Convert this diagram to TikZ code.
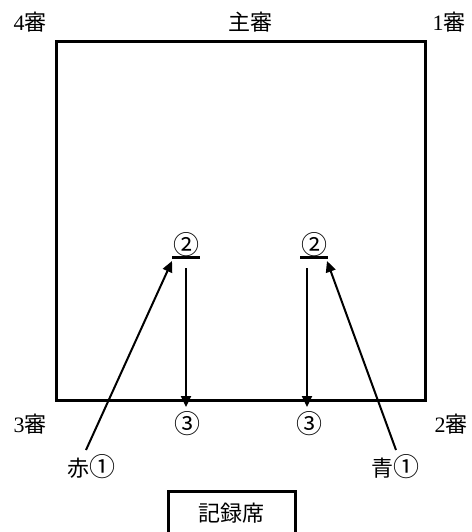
\documentclass[tikz,border=0pt]{standalone}
\usepackage{fontspec}
\setmainfont{Liberation Serif}
\newfontfamily\jp{Noto Sans CJK JP}
\newcommand{\cd}[1]{{\fontsize{26}{28}\selectfont\jp #1}}
\usetikzlibrary{arrows.meta}
\tikzset{
  lbl/.style={inner sep=0pt, font=\fontsize{22}{24}\selectfont},
  field/.style={line width=3pt},
  mv/.style={line width=2pt, -{Triangle[length=11pt,width=10pt]}},
  num/.style={lbl, minimum width=27pt, minimum height=24pt},
}
\begin{document}
\begin{tikzpicture}[x=1pt,y=-1pt]
\useasboundingbox (0,0) rectangle (471,532);
\clip (0,0) rectangle (471,532);
% court
\node[field, draw, minimum width=369pt, minimum height=358pt, inner sep=0pt] (court) at (240.5,221) {};
% labels
\node[lbl] (j4) at (30,22) {4{\jp 審}};
\node[lbl] (jm) at (250,22) {{\jp 主審}};
\node[lbl] (j1) at (449,22) {1{\jp 審}};
\node[lbl] (j3) at (30,424) {3{\jp 審}};
\node[lbl] (j2) at (451,424) {2{\jp 審}};
\node[lbl] (c3l) at (187,424) {\cd{③}};
\node[lbl] (c3r) at (309,424) {\cd{③}};
\node[lbl] (red) at (91,467) {{\jp 赤}\cd{①}};
\node[lbl] (blue) at (395,467) {{\jp 青}\cd{①}};
% positions 2
\node[num] (p2l) at (186,245) {\cd{②}};
\node[num] (p2r) at (314,245) {\cd{②}};
\draw[field] (p2l.south west) -- (p2l.south east);
\draw[field] (p2r.south west) -- (p2r.south east);
% record table
\node[field, draw, minimum width=127pt, minimum height=60pt, inner sep=0pt, anchor=north] (rec) at (231.5,490) {};
\node[lbl] (rect) at (231.5,513) {{\jp 記録席}};
% movements
\coordinate (sl) at (186,268);
\coordinate (el) at (186,407);
\coordinate (sr) at (307,268);
\coordinate (er) at (307,407);
\draw[mv] (sl) -- (el);
\draw[mv] (sr) -- (er);
\coordinate (rs) at (86,450);
\coordinate (rt) at (172,261);
\coordinate (bs) at (396,450);
\coordinate (bt) at (327,261);
\draw[mv] (rs) -- (rt);
\draw[mv] (bs) -- (bt);
\end{tikzpicture}
\end{document}
